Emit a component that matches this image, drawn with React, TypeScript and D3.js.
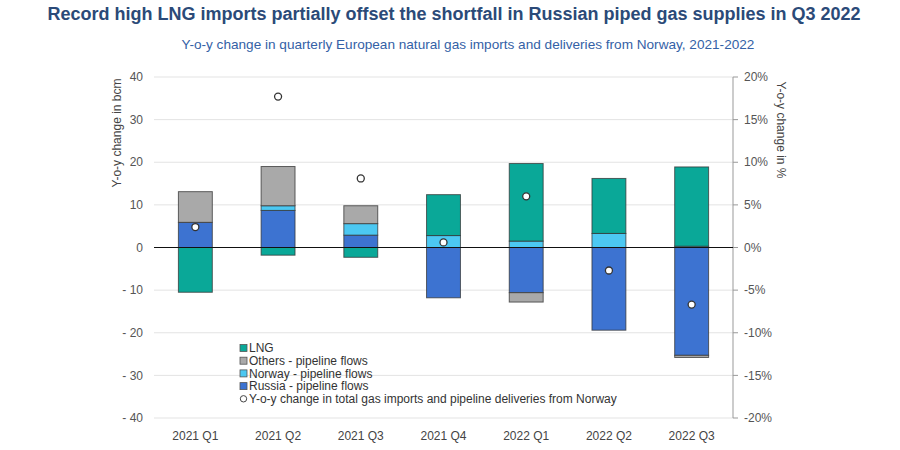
import React from "react";
import * as d3 from "d3";

const categories = ["2021 Q1", "2021 Q2", "2021 Q3", "2021 Q4", "2022 Q1", "2022 Q2", "2022 Q3"];
const russia = [5.9, 8.7, 2.9, -11.8, -10.6, -19.4, -25.3];
const norway = [0, 1.1, 2.7, 2.8, 1.5, 3.3, 0.3];
const others = [7.2, 9.2, 4.2, 0, -2.2, 0, -0.5];
const lng = [-10.5, -1.8, -2.3, 9.6, 18.2, 12.9, 18.6];
const totalPct = [2.4, 17.7, 8.1, 0.6, 6.0, -2.7, -6.7];
const leftTicks = [40, 30, 20, 10, 0, -10, -20, -30, -40];
const rightTicks = [20, 15, 10, 5, 0, -5, -10, -15, -20];

const seriesKeys = ["russia", "norway", "others", "lng"];
const seriesColors: Record<string, string> = {
  russia: "#3d73d1",
  norway: "#4cc8f2",
  others: "#a9a9a9",
  lng: "#0aa898",
};
const legendItems = [
  { label: "LNG", color: seriesColors.lng },
  { label: "Others - pipeline flows", color: seriesColors.others },
  { label: "Norway - pipeline flows", color: seriesColors.norway },
  { label: "Russia - pipeline flows", color: seriesColors.russia },
];

export default function App() {
  const W = 900, H = 450;
  const left = 154, right = 733, top = 77, bottom = 418;
  const x = d3.scaleBand<string>().domain(categories).range([left, right]).paddingInner(0.59).paddingOuter(0.295);
  const y = d3.scaleLinear().domain([-40, 40]).range([bottom, top]);
  const y2 = d3.scaleLinear().domain([-20, 20]).range([bottom, top]);

  const rows = categories.map((c, i) => ({
    cat: c,
    russia: russia[i],
    norway: norway[i],
    others: others[i],
    lng: lng[i],
  }));
  const stacked = d3
    .stack<any>()
    .keys(seriesKeys)
    .offset(d3.stackOffsetDiverging)(rows);

  const font = "Arial, 'Liberation Sans', sans-serif";

  return (
    <svg width={W} height={H} style={{ position: "absolute", left: 0, top: 0, background: "#fff" }} fontFamily={font}>
      <text x={454} y={20} textAnchor="middle" fontSize={18} fontWeight="bold" fill="#2b4a78">
        Record high LNG imports partially offset the shortfall in Russian piped gas supplies in Q3 2022
      </text>
      <text x={468} y={49} textAnchor="middle" fontSize={13.6} fill="#3461a6">
        Y-o-y change in quarterly European natural gas imports and deliveries from Norway, 2021-2022
      </text>

      {leftTicks.map((t) => (
        <g key={"g" + t}>
          {t !== 0 && (
            <line x1={left} x2={right} y1={y(t)} y2={y(t)} stroke="#e3e3e3" strokeWidth={1} />
          )}
          <text x={143} y={y(t)} dy="0.35em" textAnchor="end" fontSize={12} fill="#555">
            {t < 0 ? "- " + Math.abs(t) : String(t)}
          </text>
        </g>
      ))}

      <line x1={right} x2={right} y1={top} y2={bottom} stroke="#999" />
      {rightTicks.map((t) => (
        <g key={"r" + t}>
          <line x1={right} x2={right + 5} y1={y2(t)} y2={y2(t)} stroke="#999" />
          <text x={744} y={y2(t)} dy="0.35em" fontSize={12} fill="#555">
            {t + "%"}
          </text>
        </g>
      ))}

      <text transform={`translate(121,${133}) rotate(-90)`} textAnchor="middle" fontSize={12} fill="#444">
        Y-o-y change in bcm
      </text>
      <text transform={`translate(777,${130}) rotate(90)`} textAnchor="middle" fontSize={12} fill="#444">
        Y-o-y change in %
      </text>

      {stacked.map((s) => (
        <g key={s.key}>
          {s.map((d, i) => {
            const y0 = y(Math.max(d[0], d[1]));
            const y1 = y(Math.min(d[0], d[1]));
            if (Math.abs(d[1] - d[0]) < 1e-9) return null;
            return (
              <rect
                key={i}
                x={x(d.data.cat)}
                y={y0}
                width={x.bandwidth()}
                height={y1 - y0}
                fill={seriesColors[s.key]}
                stroke="#333"
                strokeOpacity={0.75}
                strokeWidth={1}
              />
            );
          })}
        </g>
      ))}

      <line x1={left} x2={right} y1={y(0)} y2={y(0)} stroke="#111" strokeWidth={1.2} />

      {totalPct.map((v, i) => (
        <circle key={i} cx={x(categories[i])! + x.bandwidth() / 2} cy={y2(v)} r={3.5} fill="#fff" stroke="#333" strokeWidth={1.3} />
      ))}

      {categories.map((c) => (
        <text key={c} x={x(c)! + x.bandwidth() / 2} y={440} textAnchor="middle" fontSize={12} fill="#444">
          {c}
        </text>
      ))}

      <g>
        {legendItems.map((it, i) => (
          <g key={it.label} transform={`translate(240,${348 + i * 12.7})`}>
            <rect x={0} y={-3.5} width={7} height={7} fill={it.color} stroke="#555" strokeWidth={0.8} />
            <text x={9} y={0} dy="0.35em" fontSize={12} fill="#333">
              {it.label}
            </text>
          </g>
        ))}
        <g transform={`translate(240,${348 + 4 * 12.7})`}>
          <circle cx={3.5} cy={0} r={3.2} fill="#fff" stroke="#444" strokeWidth={1} />
          <text x={9} y={0} dy="0.35em" fontSize={12} fill="#333">
            Y-o-y change in total gas imports and pipeline deliveries from Norway
          </text>
        </g>
      </g>
    </svg>
  );
}
